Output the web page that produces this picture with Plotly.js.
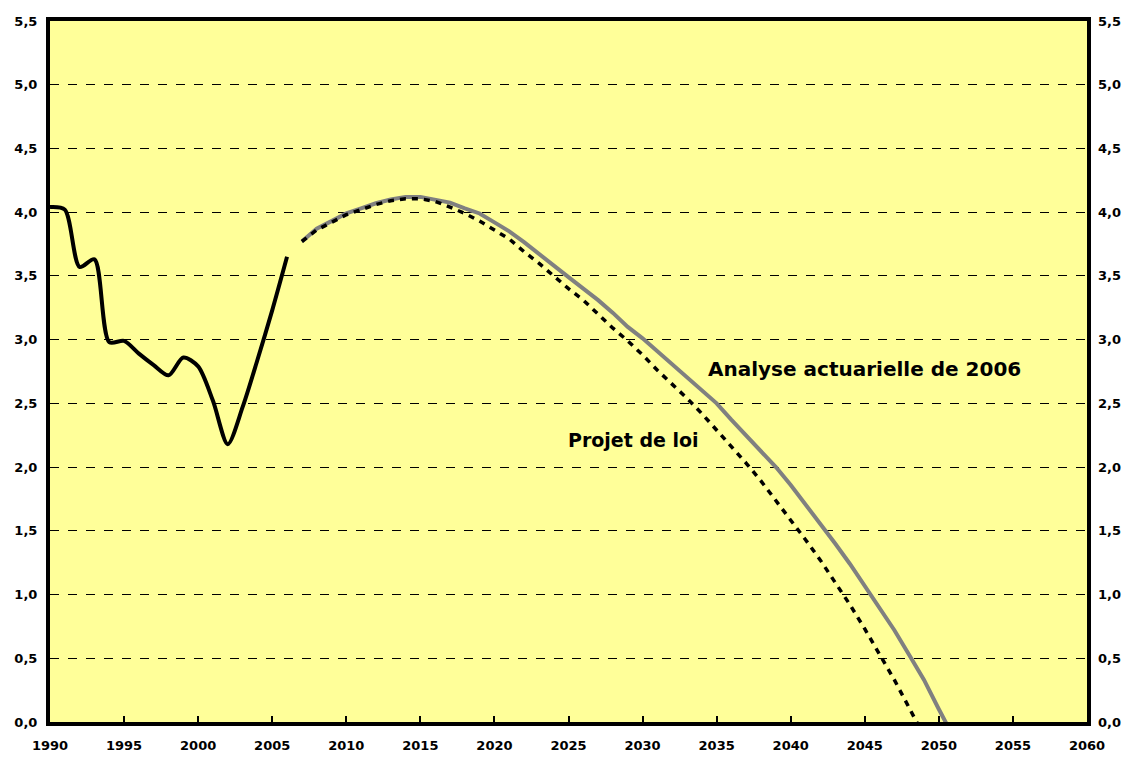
<!DOCTYPE html>
<html>
<head>
<meta charset="utf-8">
<script src="https://cdn.plot.ly/plotly-3.0.1.min.js"></script>
<style>html,body{margin:0;padding:0;background:#fff}#chart{width:1127px;height:759px}</style>
</head>
<body>
<div id="chart"></div>
<script>
// Historical ratio
const histYears = [1990,1991,1992,1993,1994,1995,1996,1997,1998,1999,2000,2001,2002,2003,2004,2005,2006];
const histValues = [4.04,4.02,3.57,3.63,2.98,2.99,2.89,2.80,2.72,2.86,2.79,2.52,2.18,2.47,2.84,3.23,3.65];

// Projections
const projYears = [2007,2008,2009,2010,2011,2012,2013,2014,2015,2016,2017,2018,2019,2020,2021,2022,2023,2024,2025,2026,2027,2028,2029,2030,2031,2032,2033,2034,2035,2036,2037,2038,2039,2040,2041,2042,2043,2044,2045,2046,2047,2048,2049,2050,2051];
const actuarial2006 = [3.77,3.87,3.93,3.99,4.03,4.07,4.10,4.12,4.12,4.10,4.075,4.03,3.99,3.92,3.85,3.765,3.67,3.58,3.49,3.40,3.31,3.21,3.10,3.01,2.91,2.81,2.71,2.60,2.50,2.37,2.25,2.13,2.00,1.86,1.71,1.56,1.40,1.24,1.07,0.90,0.72,0.525,0.33,0.10,-0.12];
const projetDeLoi = [3.77,3.86,3.92,3.98,4.02,4.06,4.09,4.105,4.105,4.085,4.04,3.99,3.93,3.86,3.79,3.69,3.60,3.50,3.40,3.31,3.20,3.09,2.99,2.88,2.76,2.65,2.54,2.42,2.29,2.17,2.03,1.89,1.74,1.59,1.43,1.27,1.10,0.92,0.73,0.525,0.33,0.11,-0.11,null,null];

const xTicks = [1990,1995,2000,2005,2010,2015,2020,2025,2030,2035,2040,2045,2050,2055,2060];
const yTicks = [0,0.5,1,1.5,2,2.5,3,3.5,4,4.5,5,5.5];
const yTickLabels = ["0,0","0,5","1,0","1,5","2,0","2,5","3,0","3,5","4,0","4,5","5,0","5,5"];

const labelActuarial = "Analyse actuarielle de 2006";
const labelProjet = "Projet de loi";

const FONT = "DejaVu Sans, Liberation Sans, sans-serif";

const traces = [
  {x: histYears, y: histValues, mode: "lines", line: {color: "#000", width: 4, shape: "spline", smoothing: 0.8}, hoverinfo: "skip", showlegend: false},
  {x: projYears, y: actuarial2006, mode: "lines", line: {color: "#808080", width: 4}, hoverinfo: "skip", showlegend: false},
  {x: projYears, y: projetDeLoi, mode: "lines", line: {color: "#000", width: 3.5, dash: "6px,6px"}, hoverinfo: "skip", showlegend: false},
  {x: [histYears[0]], y: [histValues[0]], yaxis: "y2", mode: "lines", line: {width: 0}, hoverinfo: "skip", showlegend: false, opacity: 0}
];

const axisFont = {family: FONT, size: 13, color: "#000", weight: "bold"};

const layout = {
  width: 1127, height: 759,
  margin: {l: 50, r: 40, t: 21, b: 37},
  paper_bgcolor: "#fff",
  plot_bgcolor: "#FFFF99",
  showlegend: false,
  xaxis: {
    range: [1990, 2060], tickvals: xTicks, ticks: "inside", ticklen: 6, tickwidth: 2, tickcolor: "#000",
    showgrid: false, zeroline: false, showline: true, linecolor: "#000", linewidth: 4, mirror: true,
    tickfont: axisFont, ticklabelstandoff: 8, fixedrange: true
  },
  yaxis: {
    range: [0, 5.5], tickvals: yTicks, ticktext: yTickLabels, ticks: "",
    showgrid: true, gridcolor: "#000", gridwidth: 1, griddash: "dash",
    zeroline: false, showline: true, linecolor: "#000", linewidth: 4, mirror: true,
    tickfont: axisFont, ticklabelstandoff: 6, fixedrange: true
  },
  yaxis2: {
    range: [0, 5.5], tickvals: yTicks, ticktext: yTickLabels, ticks: "",
    overlaying: "y", side: "right", showgrid: false, zeroline: false, showline: false,
    tickfont: axisFont, ticklabelstandoff: 10, fixedrange: true
  },
  annotations: [
    {x: 2034.3, y: 2.77, xref: "x", yref: "y", text: labelActuarial, showarrow: false, xanchor: "left", yanchor: "middle",
     font: {family: FONT, size: 20, color: "#000", weight: "bold"}},
    {x: 2024.8, y: 2.21, xref: "x", yref: "y", text: labelProjet, showarrow: false, xanchor: "left", yanchor: "middle",
     font: {family: FONT, size: 19, color: "#000", weight: "bold"}}
  ]
};

Plotly.newPlot("chart", traces, layout, {displayModeBar: false, staticPlot: true});
</script>
</body>
</html>
